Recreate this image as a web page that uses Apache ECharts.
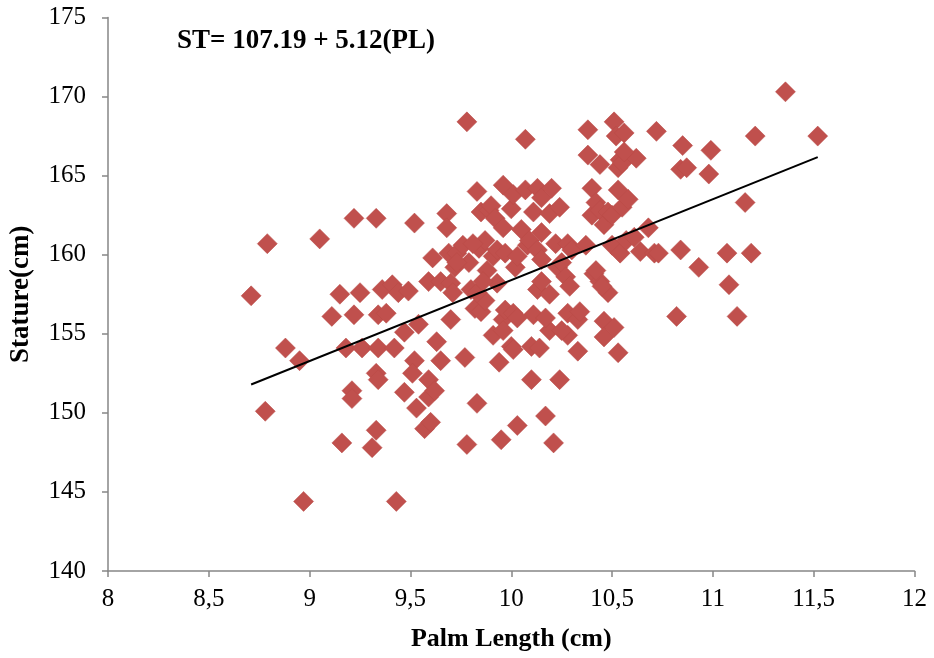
<!DOCTYPE html>
<html>
<head>
<meta charset="utf-8">
<script src="https://cdn.jsdelivr.net/npm/echarts@6/dist/echarts.min.js"></script>
<style>
html,body{margin:0;padding:0;background:#fff;}
#chart{width:934px;height:658px;}
</style>
</head>
<body>
<div id="chart"></div>
<script>
// Palm length (cm) of each subject
var palmLength = [
  8.71, 8.79, 8.78, 8.88, 8.95, 8.97, 9.05, 9.11, 9.15, 9.16,
  9.18, 9.22, 9.22, 9.21, 9.21, 9.25, 9.26, 9.33, 9.31, 9.33,
  9.33, 9.34, 9.34, 9.34, 9.36, 9.38, 9.41, 9.42, 9.43, 9.44,
  9.47, 9.49, 9.47, 9.54, 9.52, 9.52, 9.51, 9.53, 9.57, 9.60,
  9.59, 9.59, 9.62, 9.59, 9.63, 9.65, 9.65, 9.68, 9.68, 9.69,
  9.70, 9.70, 9.72, 9.73, 9.77, 9.76, 9.78, 9.78, 9.79, 9.82,
  9.83, 9.83, 9.85, 9.84, 9.85, 9.87, 9.87, 9.88, 9.89, 9.90,
  9.91, 9.91, 9.92, 9.93, 9.93, 9.94, 9.96, 9.95, 9.96, 9.96,
  9.97, 9.97, 10.00, 10.00, 10.01, 10.01, 10.02, 10.03, 10.03, 10.05,
  10.07, 10.07, 10.08, 10.09, 10.10, 10.10, 10.11, 10.11, 10.13, 10.13,
  10.13, 10.14, 10.15, 10.15, 10.15, 10.15, 10.17, 10.19, 10.19, 10.19,
  10.20, 10.21, 10.22, 10.24, 10.23, 10.24, 10.25, 10.27, 10.28, 10.28,
  10.28, 10.29, 10.30, 10.33, 10.33, 10.37, 10.38, 10.38, 10.40, 10.40,
  10.41, 10.42, 10.44, 10.44, 10.44, 10.46, 10.46, 10.46, 10.48, 10.48,
  10.50, 10.51, 10.50, 10.51, 10.52, 10.53, 10.53, 10.53, 10.54, 10.54,
  10.55, 10.55, 10.56, 10.58, 10.57, 10.62, 10.61, 10.64, 10.68, 10.71,
  10.72, 10.73, 10.84, 10.85, 10.84, 10.87, 10.82, 10.93, 10.98, 10.99,
  11.07, 11.08, 11.12, 11.16, 11.19, 11.21, 11.36, 11.52,
  9.71, 9.80, 9.83, 9.86, 9.96, 10.01, 10.03, 10.17, 10.25, 10.34,
  10.42, 10.45, 10.56, 9.81, 9.61, 9.73
];
// Stature (cm) of each subject, same order
var stature = [
  157.4, 160.7, 150.1, 154.1, 153.3, 144.4, 161.0, 156.1, 157.5, 148.1,
  154.1, 162.3, 156.2, 151.4, 150.9, 157.6, 154.1, 162.3, 147.8, 148.9,
  152.5, 152.1, 154.1, 156.2, 157.8, 156.3, 158.1, 154.1, 144.4, 157.6,
  151.3, 157.7, 155.1, 155.6, 162.0, 153.3, 152.5, 150.3, 149.0, 149.4,
  152.1, 151.0, 151.4, 158.3, 154.5, 153.3, 158.3, 162.6, 161.7, 160.1,
  158.2, 155.9, 159.2, 160.1, 153.5, 160.6, 168.4, 148.0, 159.5, 156.6,
  164.0, 150.6, 156.4, 160.4, 162.7, 157.1, 160.9, 159.0, 162.8, 163.1,
  159.9, 154.9, 162.3, 158.2, 160.3, 153.2, 164.4, 148.3, 155.9, 161.7,
  156.5, 160.1, 154.2, 162.9, 163.8, 156.3, 159.2, 149.2, 159.9, 161.6,
  164.1, 167.3, 160.6, 160.9, 154.2, 152.1, 162.7, 156.2, 164.2, 160.3,
  157.8, 154.1, 159.7, 163.6, 161.4, 158.3, 149.8, 155.2, 157.5, 162.6,
  164.2, 148.1, 160.7, 152.1, 159.2, 163.0, 159.5, 158.6, 156.3, 154.9,
  160.7, 158.0, 160.3, 155.9, 153.9, 160.6, 167.9, 166.3, 164.2, 162.5,
  158.8, 163.3, 165.7, 158.3, 162.8, 155.8, 154.8, 161.9, 157.6, 162.7,
  160.6, 168.4, 162.5, 155.4, 167.5, 153.8, 164.1, 165.5, 166.0, 160.1,
  165.8, 163.0, 167.7, 163.5, 160.9, 166.1, 161.1, 160.2, 161.7, 160.1,
  167.8, 160.1, 160.3, 166.9, 165.4, 165.5, 156.1, 159.2, 165.1, 166.6,
  160.1, 158.1, 156.1, 163.3, 160.1, 167.5, 170.3, 167.5,
  157.6, 157.8, 157.6, 158.3, 155.2, 154.0, 156.0, 156.0, 155.2, 156.4,
  159.0, 158.0, 166.5, 160.7, 159.8, 159.5
];
// Linear trend line end points (ST = 107.19 + 5.12 PL)
var trendX = [8.71, 11.52];
var trendY = [151.79, 166.17];
var equationText = 'ST= 107.19 + 5.12(PL)';
var xTicks = {min: 8, max: 12, interval: 0.5};
var yTicks = {min: 140, max: 175, interval: 5};

var points = palmLength.map(function (x, i) { return [x, stature[i]]; });
var trend = trendX.map(function (x, i) { return [x, trendY[i]]; });

var FONT = '"Liberation Serif", "Times New Roman", serif';
var chart = echarts.init(document.getElementById('chart'), null, {renderer: 'canvas'});
chart.setOption({
  backgroundColor: '#ffffff',
  animation: false,
  grid: {left: 106.5, right: 19.5, top: 17.5, bottom: 87},
  graphic: [{
    type: 'text', left: 177, top: 28,
    style: {text: equationText, font: 'bold 27px ' + FONT, fill: '#000'}
  }],
  xAxis: {
    type: 'value', min: xTicks.min, max: xTicks.max, interval: xTicks.interval,
    name: 'Palm Length (cm)', nameLocation: 'middle', nameGap: 55,
    nameTextStyle: {fontFamily: FONT, fontWeight: 'bold', fontSize: 26, color: '#000'},
    axisLine: {lineStyle: {color: '#868686', width: 1.5}},
    axisTick: {show: true, length: 6, inside: false, lineStyle: {color: '#868686', width: 1.5}},
    axisLabel: {fontFamily: FONT, fontSize: 25, color: '#000', margin: 16,
      formatter: function (v) { return String(v).replace('.', ','); }},
    splitLine: {show: false}
  },
  yAxis: {
    type: 'value', min: yTicks.min, max: yTicks.max, interval: yTicks.interval,
    name: 'Stature(cm)', nameLocation: 'middle', nameGap: 73,
    nameTextStyle: {fontFamily: FONT, fontWeight: 'bold', fontSize: 27, color: '#000'},
    axisLine: {show: true, lineStyle: {color: '#868686', width: 1.5}},
    axisTick: {show: true, length: 6, inside: false, lineStyle: {color: '#868686', width: 1.5}},
    axisLabel: {fontFamily: FONT, fontSize: 25, color: '#000', margin: 22},
    splitLine: {show: false}
  },
  series: [{
    type: 'scatter',
    data: points,
    symbol: 'diamond',
    symbolSize: [20, 20],
    itemStyle: {color: '#C0504D', borderColor: '#B94A47', borderWidth: 0.5, opacity: 1},
    emphasis: {disabled: true},
    z: 2
  }, {
    type: 'line',
    data: trend,
    symbol: 'none',
    lineStyle: {color: '#000', width: 2},
    emphasis: {disabled: true},
    z: 3
  }]
});
</script>
</body>
</html>
